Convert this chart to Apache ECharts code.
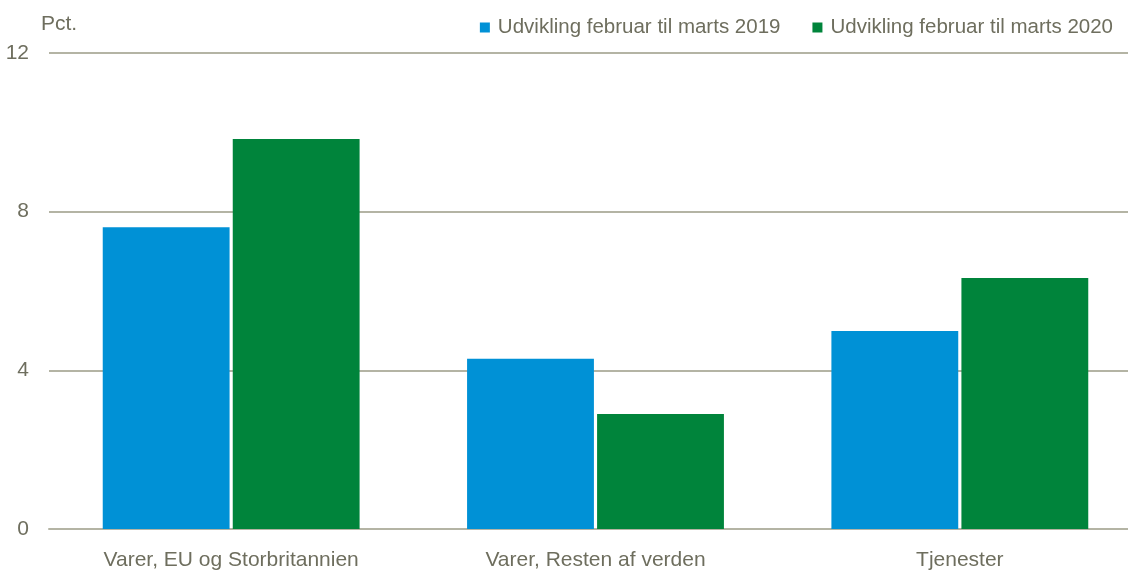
<!DOCTYPE html>
<html style="height: 100%">
<head>
    <meta charset="utf-8">
</head>
<body style="height: 100%; margin: 0; background: #fff">
    <div id="container" style="width: 1128px; height: 572px"></div>
    <script type="text/javascript" src="https://cdn.jsdelivr.net/npm/echarts@6/dist/echarts.min.js"></script>
    <script type="text/javascript">
        var categories = ['Varer, EU og Storbritannien', 'Varer, Resten af verden', 'Tjenester'];
        var seriesNames = ['Udvikling februar til marts 2019', 'Udvikling februar til marts 2020'];
        var values2019 = [7.61, 4.29, 4.99];
        var values2020 = [9.83, 2.90, 6.33];

        var textColor = '#6e6e5e';
        var lineColor = '#b4b4a4';
        var font = '"Liberation Sans Narrow", "Liberation Sans", sans-serif';

        var myChart = echarts.init(document.getElementById('container'));
        var option = {
            animation: false,
            textStyle: { fontFamily: font },
            legend: {
                top: 12,
                right: 10,
                itemWidth: 10,
                itemHeight: 10,
                itemGap: 32,
                icon: 'rect',
                textStyle: { color: textColor, fontSize: 20.5, fontFamily: font, padding: [0, 0, 0, 3] },
                data: seriesNames
            },
            grid: { left: 49, width: 1093, top: 53, bottom: 43, outerBoundsMode: 'none' },
            xAxis: {
                type: 'category',
                data: categories,
                axisTick: { show: false },
                axisLine: { lineStyle: { color: lineColor, width: 2 } },
                axisLabel: { color: textColor, fontSize: 21, margin: 21, fontFamily: font }
            },
            yAxis: {
                type: 'value',
                name: 'Pct.',
                nameLocation: 'end',
                nameGap: 18,
                nameTextStyle: { color: textColor, fontSize: 21, align: 'left', padding: [0, 0, 0, -8], fontFamily: font },
                min: 0,
                max: 12,
                interval: 4,
                axisLine: { show: false },
                axisTick: { show: false },
                axisLabel: { color: textColor, fontSize: 21, margin: 20, fontFamily: font },
                splitLine: { lineStyle: { color: lineColor, width: 2 } }
            },
            series: [
                {
                    name: seriesNames[0],
                    type: 'bar',
                    data: values2019,
                    barGap: '2.5%',
                    barCategoryGap: '29.5%',
                    itemStyle: { color: '#0091d6' }
                },
                {
                    name: seriesNames[1],
                    type: 'bar',
                    data: values2020,
                    itemStyle: { color: '#00843b' }
                }
            ]
        };
        myChart.setOption(option, true);
    </script>
</body>
</html>
